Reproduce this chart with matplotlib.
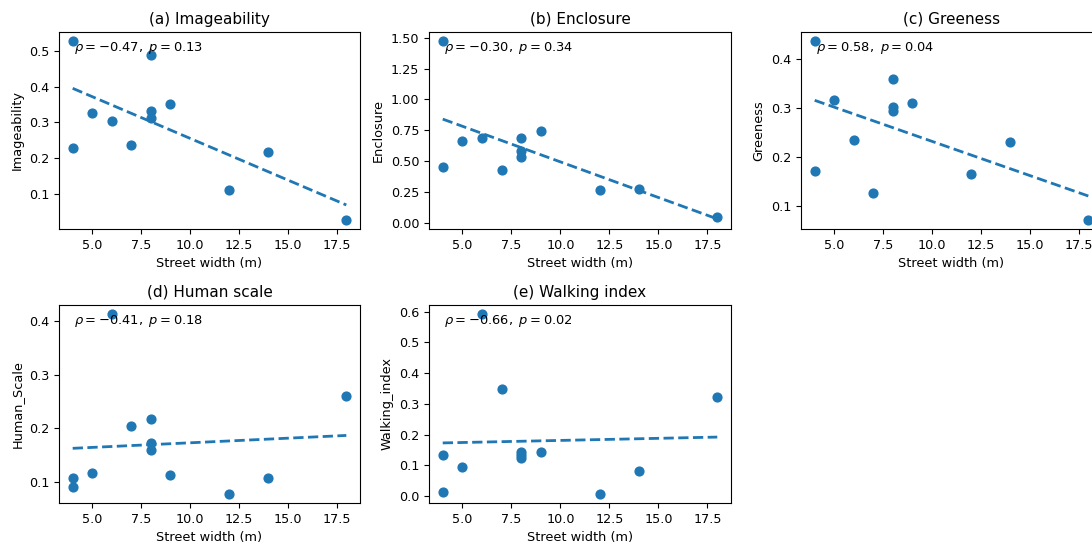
import numpy as np
import matplotlib
matplotlib.use("Agg")
import matplotlib.pyplot as plt

# Street width (m) for the 12 streets
street_width = [4, 4, 5, 6, 7, 8, 8, 8, 9, 12, 14, 18]

imageability = [0.527, 0.229, 0.327, 0.304, 0.238, 0.488, 0.333, 0.313, 0.350, 0.112, 0.218, 0.028]
enclosure    = [1.47, 0.45, 0.66, 0.685, 0.43, 0.69, 0.585, 0.535, 0.74, 0.265, 0.27, 0.047]
greeness     = [0.436, 0.170, 0.315, 0.235, 0.127, 0.358, 0.302, 0.293, 0.310, 0.165, 0.230, 0.071]
human_scale  = [0.108, 0.091, 0.117, 0.413, 0.204, 0.218, 0.173, 0.160, 0.113, 0.078, 0.108, 0.261]
walking_index = [0.133, 0.012, 0.094, 0.592, 0.348, 0.142, 0.133, 0.123, 0.144, 0.007, 0.081, 0.323]

# Dashed trend line values read at x = 4 and x = 18
trend_x = [4, 18]
trend_imageability = [0.395, 0.070]
trend_enclosure = [0.84, 0.03]
trend_greeness = [0.315, 0.120]
trend_human_scale = [0.163, 0.187]
trend_walking_index = [0.173, 0.192]

titles = ["(a) Imageability", "(b) Enclosure", "(c) Greeness",
          "(d) Human scale", "(e) Walking index"]
ylabels = ["Imageability", "Enclosure", "Greeness", "Human_Scale", "Walking_index"]
rho = ["-0.47", "-0.30", "0.58", "-0.41", "-0.66"]
pvals = ["0.13", "0.34", "0.04", "0.18", "0.02"]

series = [imageability, enclosure, greeness, human_scale, walking_index]
trends = [trend_imageability, trend_enclosure, trend_greeness,
          trend_human_scale, trend_walking_index]

# y-axis range only where it differs from automatic limits
ylims = [None, (-0.052, 1.547), None, None, None]

W, H = 1092, 544
fig = plt.figure(figsize=(W / 100, H / 100), dpi=100)

# axes boxes in pixels: (left, top, right, bottom)
boxes = [(59, 32, 360, 229), (429, 32, 731, 229), (801, 32, 1102, 229),
         (59, 305, 360, 503), (429, 305, 731, 503)]

color = "#1f77b4"
for i, (l, t, r, b) in enumerate(boxes):
    ax = fig.add_axes([l / W, 1 - b / H, (r - l) / W, (b - t) / H])
    ax.scatter(street_width, series[i], color=color, s=40, zorder=3)
    ax.plot(trend_x, trends[i], "--", color=color, lw=2)
    ax.set_title(titles[i], fontsize=11)
    ax.set_xlabel("Street width (m)", fontsize=9.3)
    ax.set_ylabel(ylabels[i], fontsize=9.3)
    ax.text(0.05, 0.92, r"$\rho = %s,\ p = %s$" % (rho[i], pvals[i]),
            transform=ax.transAxes, va="center", ha="left", fontsize=9.4)
    ax.set_xticks([5, 7.5, 10, 12.5, 15, 17.5])
    ax.tick_params(labelsize=9.2)
    if ylims[i] is not None:
        ax.set_ylim(*ylims[i])

fig.savefig("out.png", dpi=100)
